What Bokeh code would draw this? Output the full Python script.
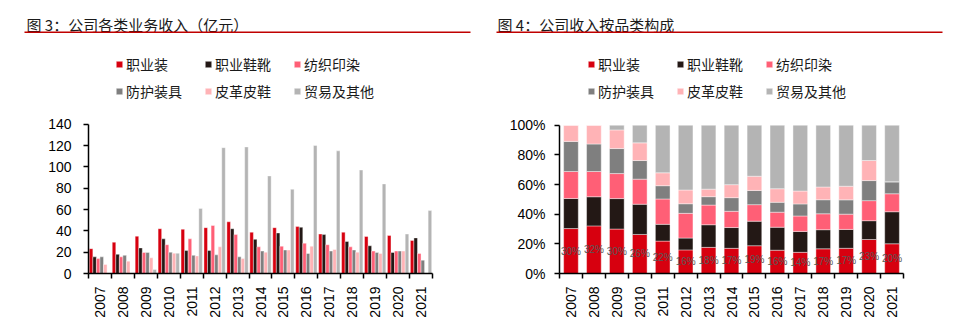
import numpy as np
from bokeh.plotting import figure
from bokeh.models import (ColumnDataSource, FixedTicker, Legend, LegendItem, Label,
                          BoxAnnotation, NumeralTickFormatter)
from bokeh.layouts import row, column
from bokeh.embed import file_html
from bokeh.resources import INLINE
from bokeh.core.properties import value

# ---------------- data ----------------
years = ["2007", "2008", "2009", "2010", "2011", "2012", "2013", "2014",
         "2015", "2016", "2017", "2018", "2019", "2020", "2021"]
names = ["职业装", "职业鞋靴", "纺织印染", "防护装具", "皮革皮鞋", "贸易及其他"]
uniform = [23.3, 29.4, 35, 42, 41.5, 43, 48.5, 38.75, 43, 44, 37, 38.75, 34.7, 35.6, 31]
footwear = [15.6, 18, 24, 32.5, 21.5, 21.5, 42, 32, 38, 43.4, 36.5, 30, 26, 19.7, 33.4]
textile = [14, 15.6, 19.7, 27, 32.5, 45, 36.5, 25, 25.6, 28.4, 27, 25, 21, 21, 18.75]
protective = [15.6, 17, 19.7, 20, 17, 17.5, 15.6, 21, 22, 18.75, 21, 22, 19.7, 21, 12.5]
leather = [8.4, 11.6, 14.7, 19, 16.5, 25, 14, 20, 22, 25.6, 22.5, 20, 18.75, 21, 0]
trade = [0, 0, 3.7, 19, 61, 118, 118.7, 91.5, 79, 120, 115, 97, 84, 37, 59]
yticks_left = [0, 20, 40, 60, 80, 100, 120, 140]
yticks_right = [0, 0.2, 0.4, 0.6, 0.8, 1.0]

colors = ["#D7000F", "#231815", "#FF5F76", "#7F7F7F", "#FFB3B6", "#B4B4B4"]
series = [uniform, footwear, textile, protective, leather, trade]
keys = ["s0", "s1", "s2", "s3", "s4", "s5"]

CJK = "Noto Sans CJK SC"
NUM = "Liberation Sans"
W = 478
HH = 40            # header height
HM = 332 - HH      # main figure height
FB = 273 - HH      # frame bottom inside main figure


def header(title, tx, lx0, lx1):
    h = figure(width=W, height=HH, x_range=(0, W), y_range=(HH, 0),
               output_backend="svg", toolbar_location=None,
               x_axis_location=None, y_axis_location=None,
               min_border_left=0, min_border_right=0,
               min_border_top=0, min_border_bottom=0, frame_align=False)
    h.grid.visible = False
    h.outline_line_color = None
    h.add_layout(Label(x=tx, y=24, text=title, text_font=CJK, text_font_size="15px",
                       text_baseline="middle", text_color="#1a1a1a"))
    h.add_layout(BoxAnnotation(left=lx0, right=lx1, top=31, bottom=32.6,
                               fill_color="#C00000", fill_alpha=1, line_color=None))
    return h


def make_fig(bl, br, yr, bounds, yticks, standoff):
    p = figure(width=W, height=HM, x_range=(0, 15), y_range=yr,
               output_backend="svg", toolbar_location=None,
               min_border_left=bl, min_border_right=br,
               min_border_top=0, min_border_bottom=HM - FB, frame_align=False)
    p.grid.visible = False
    p.outline_line_color = None
    xa = p.xaxis[0]
    centers = [i + 0.5 for i in range(len(years))]
    xa.ticker = FixedTicker(ticks=centers, minor_ticks=list(range(len(years) + 1)))
    xa.major_label_overrides = {c: y for c, y in zip(centers, years)}
    xa.major_tick_out = 0
    xa.major_tick_in = 0
    xa.minor_tick_out = 5
    xa.minor_tick_in = 0
    xa.minor_tick_line_color = "black"
    xa.minor_tick_line_width = 1.5
    xa.major_label_orientation = np.pi / 2
    xa.major_label_standoff = 8
    xa.major_label_text_font = NUM
    xa.major_label_text_font_size = "14px"
    xa.major_label_text_color = "black"
    xa.axis_line_color = "black"
    xa.axis_line_width = 1.5
    ya = p.yaxis[0]
    ya.ticker = FixedTicker(ticks=yticks)
    ya.bounds = bounds
    ya.major_tick_out = 5
    ya.major_tick_in = 0
    ya.minor_tick_out = 0
    ya.minor_tick_in = 0
    ya.major_tick_line_width = 1.5
    ya.major_tick_line_color = "black"
    ya.major_label_standoff = standoff
    ya.major_label_text_font = NUM
    ya.major_label_text_font_size = "14px"
    ya.major_label_text_color = "black"
    ya.axis_line_color = "black"
    ya.axis_line_width = 1.5
    return p


def add_legend(p, renderers, legend_x):
    rows_y = [273 - 74, 273 - 101]
    for r in range(2):
        items = [LegendItem(label=names[r * 3 + c], renderers=[renderers[r * 3 + c]])
                 for c in range(3)]
        lg = Legend(items=items, orientation="horizontal", location=(legend_x, rows_y[r]),
                    glyph_width=8, glyph_height=8, label_standoff=3, label_width=78,
                    label_height=20, spacing=0, padding=0, margin=0,
                    border_line_color=None, background_fill_alpha=0,
                    label_text_font=CJK, label_text_font_size="14px",
                    label_text_color="#1a1a1a")
        p.add_layout(lg, "center")


# ---------------- left: grouped bars ----------------
idx = np.arange(len(years))
bw = 0.155
left_data = {"year": years}
for k, s in zip(keys, series):
    left_data[k] = s
for k in range(6):
    left_data["x" + str(k)] = idx + 0.5 + (k - 2.5) * bw
src_l = ColumnDataSource(left_data)

# left frame: x 88..432 ; 0 at canvas y 273.3, 140 at y 124
ppu_l = (273.3 - 124) / 140.0
p1 = make_fig(88, W - 432, (0, FB / ppu_l), (0, 140), yticks_left, 12)
rl = []
for k in range(6):
    r = p1.vbar(x="x" + str(k), top=keys[k], width=bw, bottom=0, source=src_l,
                fill_color=colors[k], line_color="white", line_width=0.4)
    rl.append(r)
add_legend(p1, rl, 115 - 88)
h1 = header("图 3：公司各类业务收入（亿元）", 26, 24, 470)

# ---------------- right: 100% stacked ----------------
tot = np.sum(np.array(series, dtype=float), axis=0)
right_data = {"x": idx + 0.5, "year": years}
for k, s in zip(keys, series):
    right_data[k] = np.array(s, dtype=float) / tot
right_data["lab_y"] = right_data["s0"] / 2
right_data["lab"] = ["%d%%" % round(v * 100) for v in right_data["s0"]]
src_r = ColumnDataSource(right_data)

# right frame: canvas x 559..903 -> 81..425 ; 0% at y 273.3, 100% at y 125
ppu_r = (273.3 - 125) / 1.0
p2 = make_fig(81, W - 425, (0, FB / ppu_r), (0, 1), yticks_right, 9)
p2.yaxis[0].formatter = NumeralTickFormatter(format="0%")
rr = p2.vbar_stack(keys, x="x", width=0.64, color=colors, source=src_r,
                   line_color="white", line_width=0.6, line_alpha=0.7)
p2.text(x="x", y="lab_y", text="lab", source=src_r,
        text_font=value(NUM),
        text_font_size="10px", text_color="#5a5a5a", text_align="center",
        text_baseline="middle")
add_legend(p2, rr, 587 - 559)
h2 = header("图 4：公司收入按品类构成", 19, 18, 464)

layout = row(column(h1, p1), column(h2, p2))
open("out.html", "w").write(file_html(layout, INLINE))
